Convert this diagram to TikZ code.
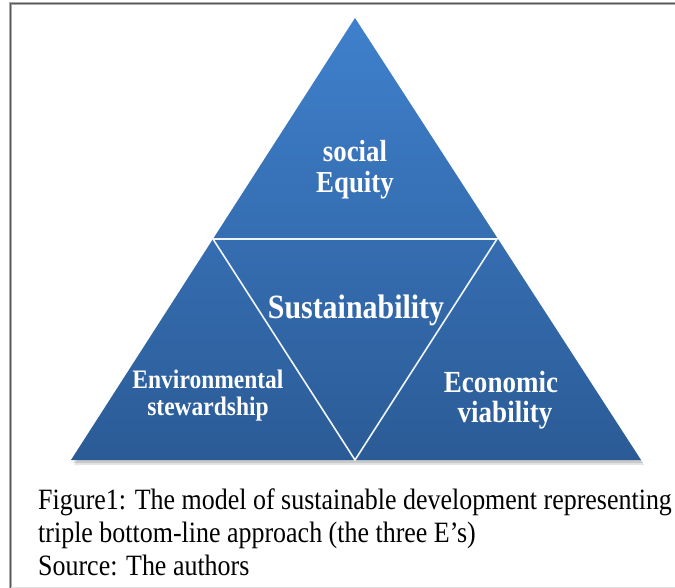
\documentclass[tikz,border=0pt]{standalone}
\usepackage{fontspec}
\setmainfont{Liberation Serif}
\newfontfamily\narrowserif[FakeStretch=0.88]{Liberation Serif}
\usetikzlibrary{calc}
\definecolor{tritop}{RGB}{63,128,204}
\definecolor{tribot}{RGB}{43,91,150}
\definecolor{framegray}{RGB}{90,90,90}
\tikzset{
  x=1pt, y=-1pt,
  inlabel/.style={text=white, inner sep=0pt, anchor=base},
  captext/.style={text=black, inner sep=0pt, anchor=base west, font=\narrowserif\fontsize{29.5pt}{32pt}\selectfont},
  innerline/.style={draw=white!92!tritop, line width=1.6pt, line join=miter}
}
\begin{document}
\begin{tikzpicture}
\useasboundingbox (0,0) rectangle (675,588);
\fill[white] (0,0) rectangle (675,588);
% frame
\draw[framegray!50, line width=3pt] (10.5,588) -- (10.5,3.5) -- (675,3.5);
\draw[framegray, line width=1.3pt] (10.5,588) -- (10.5,3.5) -- (675,3.5);
\draw[gray!25, line width=0.8pt] (10.5,587) -- (675,587);
% coordinates
\coordinate (A) at (355,18);
\coordinate (BL) at (71,460);
\coordinate (BR) at (641,460);
\coordinate (ML) at (213,239);
\coordinate (MR) at (497,239);
\coordinate (MB) at (355,460);
% shadow
\fill[black, opacity=0.12] (355,21) -- (643,463) -- (73,463) -- cycle;
\fill[black, opacity=0.10] (355,22) -- (644,465) -- (74,465) -- cycle;
% big triangle
\shade[top color=tritop, bottom color=tribot] (A) -- (BR) -- (BL) -- cycle;
% inner triangle
\draw[innerline] (ML) -- (MR) -- (MB) -- cycle;
% labels
\node[inlabel, font=\narrowserif\bfseries\fontsize{30.5pt}{33pt}\selectfont] (social) at (355,162) {social};
\node[inlabel, font=\narrowserif\bfseries\fontsize{30.5pt}{33pt}\selectfont] (equity) at (355,193) {Equity};
\node[inlabel, font=\narrowserif\bfseries\fontsize{34pt}{37pt}\selectfont] (sust) at (356,318) {Sustainability};
\node[inlabel, font=\narrowserif\bfseries\fontsize{26.7pt}{29pt}\selectfont] (env) at (208,388) {Environmental};
\node[inlabel, font=\narrowserif\bfseries\fontsize{26.7pt}{29pt}\selectfont] (stew) at (208,415) {stewardship};
\node[inlabel, font=\narrowserif\bfseries\fontsize{30.7pt}{33pt}\selectfont] (econ) at (501,392) {Economic};
\node[inlabel, font=\narrowserif\bfseries\fontsize{30.7pt}{33pt}\selectfont] (viab) at (505,422) {viability};
% caption
\node[captext] (cap1) at (38,509) {Figure1: The model of sustainable development representing};
\node[captext] (cap2) at (38,542) {triple bottom-line approach (the three E’s)};
\node[captext] (cap3) at (38,575) {Source: The authors};
\end{tikzpicture}
\end{document}
